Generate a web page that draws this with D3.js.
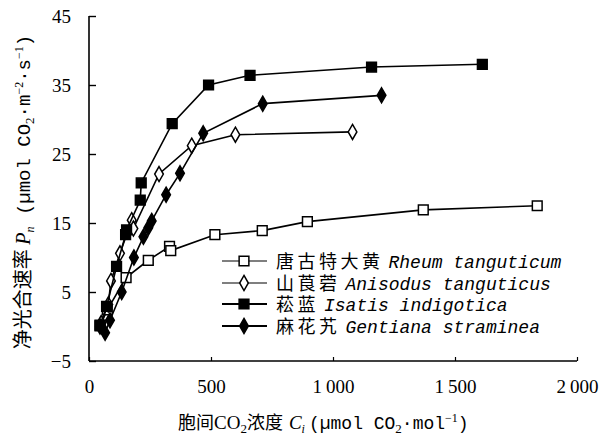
<!DOCTYPE html>
<html>
<head>
<meta charset="utf-8">
<script src="https://cdn.jsdelivr.net/npm/d3@7"></script>
<style>
  body { margin: 0; background: #fff; }
  svg { display: block; }
  .tick text { font-family: "Liberation Serif", serif; font-size: 19px; fill: #000; }
</style>
</head>
<body>
<svg width="614" height="437"></svg>
<script>
// data: [Ci, Pn]
var rheum = [[45, 0.1], [75, 2.4], [152, 7.1], [243, 9.6], [330, 11.6], [335, 11.0], [516, 13.3], [710, 13.9], [895, 15.2], [1370, 16.9], [1837, 17.5]];
var anisodus = [[50, 0.5], [79, 3.2], [90, 6.6], [127, 10.6], [175, 15.4], [182, 14.2], [287, 22.1], [421, 26.2], [600, 27.8], [1080, 28.2]];
var isatis = [[45, 0.2], [72, 2.9], [113, 8.7], [150, 13.3], [154, 14.0], [210, 18.3], [214, 20.8], [341, 29.4], [490, 35.0], [660, 36.4], [1158, 37.6], [1612, 38.0]];
var gentiana = [[45, 0.0], [66, -0.9], [86, 0.9], [134, 5.0], [184, 10.0], [223, 13.0], [243, 14.3], [257, 15.3], [316, 19.1], [373, 22.2], [468, 28.0], [712, 32.3], [1199, 33.5]];

var seriesNames = ["唐古特大黄", "山莨菪", "菘蓝", "麻花艽"];
var latinNames = ["Rheum tanguticum", "Anisodus tanguticus", "Isatis indigotica", "Gentiana straminea"];
var markers = ["openSquare", "openDiamond", "square", "diamond"];

var xTicks = [0, 500, 1000, 1500, 2000];
var yTicks = [-5, 5, 15, 25, 35, 45];

var svg = d3.select("svg");

var x = d3.scaleLinear().domain([0, 2000]).range([89, 577]);
var y = d3.scaleLinear().domain([-5, 45]).range([361, 16]);

// axes
svg.append("g")
  .attr("transform", "translate(0,361)")
  .call(d3.axisBottom(x).tickValues(xTicks).tickSize(-4).tickPadding(19)
    .tickFormat(d => d >= 1000 ? d3.format(",")(d).replace(",", "\u2009") : d))
  .call(g => g.select(".domain").attr("d", "M89,0H577").attr("stroke-width", 1.6))
  .call(g => g.selectAll(".tick line").attr("stroke-width", 1.2));

svg.append("g")
  .attr("transform", "translate(89,0)")
  .call(d3.axisLeft(y).tickValues(yTicks).tickSize(-7).tickPadding(18)
    .tickFormat(d => d < 0 ? "\u2212" + Math.abs(d) : d))
  .call(g => g.select(".domain").attr("d", "M0,16V361").attr("stroke-width", 1.6))
  .call(g => g.selectAll(".tick line").attr("stroke-width", 1.4));

var line = d3.line().x(d => x(d[0])).y(d => y(d[1]));

var symSquare = d3.symbol().type(d3.symbolSquare).size(95);
var symDiamond = d3.symbol().type(d3.symbolDiamond).size(65);

function drawMarker(g, type, px, py) {
  var filled = type == "square" || type == "diamond";
  var s = (type == "square" || type == "openSquare") ? symSquare : symDiamond;
  g.append("path")
    .attr("d", s())
    .attr("transform", "translate(" + px + "," + py + ")")
    .attr("fill", filled ? "#000" : "#fff")
    .attr("stroke", "#000")
    .attr("stroke-width", 1.5);
}

var allSeries = [rheum, anisodus, isatis, gentiana];

allSeries.forEach(function(data, i) {
  var g = svg.append("g");
  g.append("path")
    .datum(data)
    .attr("d", line)
    .attr("fill", "none")
    .attr("stroke", "#000")
    .attr("stroke-width", 1.6);
  data.forEach(d => drawMarker(g, markers[i], x(d[0]), y(d[1])));
});

// legend
var legendY = [261, 283, 304, 326];
seriesNames.forEach(function(name, i) {
  var g = svg.append("g");
  g.append("line")
    .attr("x1", 222).attr("x2", 267)
    .attr("y1", legendY[i]).attr("y2", legendY[i])
    .attr("stroke", "#000").attr("stroke-width", i < 2 ? 1.2 : 1.8);
  drawMarker(g, markers[i], 244, legendY[i]);
  var t = g.append("text")
    .attr("x", 276).attr("y", legendY[i] + 7)
    .attr("font-size", 18);
  t.append("tspan").attr("font-family", "'Noto Sans CJK SC'")
    .attr("letter-spacing", 3.5).text(name);
  t.append("tspan").attr("font-family", "'Liberation Mono', monospace")
    .attr("dx", 5)
    .attr("font-style", "italic").attr("font-size", 18).text(latinNames[i]);
});

// x title
var xt = svg.append("text")
  .attr("x", 178).attr("y", 429)
  .attr("font-size", 18);
xt.append("tspan").attr("font-family", "'Noto Sans CJK SC'").text("胞间");
xt.append("tspan").attr("font-family", "'Liberation Serif'").attr("font-size", 19).text("CO");
xt.append("tspan").attr("font-family", "'Liberation Serif'").attr("font-size", 13).attr("dy", 4).text("2");
xt.append("tspan").attr("font-family", "'Noto Sans CJK SC'").attr("dy", -4).text("浓度");
xt.append("tspan").attr("font-family", "'Liberation Serif'").attr("font-style", "italic").attr("font-size", 19).attr("dx", 6).text("C");
xt.append("tspan").attr("font-family", "'Liberation Serif'").attr("font-style", "italic").attr("font-size", 12).attr("dy", 4).text("i");
xt.append("tspan").attr("font-family", "'Liberation Mono'").attr("dy", -4).attr("dx", 4).text("(\u00b5mol CO");
xt.append("tspan").attr("font-family", "'Liberation Serif'").attr("font-size", 13).attr("dy", 4).text("2");
xt.append("tspan").attr("font-family", "'Liberation Mono'").attr("dy", -4).text("\u00b7mol");
xt.append("tspan").attr("font-family", "'Liberation Serif'").attr("font-size", 12).attr("dy", -7).text("\u22121");
xt.append("tspan").attr("font-family", "'Liberation Mono'").attr("dy", 7).text(")");

// y title
var yt = svg.append("text")
  .attr("transform", "translate(30,192) rotate(-90)")
  .attr("text-anchor", "middle")
  .attr("font-size", 19);
yt.append("tspan").attr("font-family", "'Noto Sans CJK SC'").attr("font-size", 20).text("净光合速率 ");
yt.append("tspan").attr("font-family", "'Liberation Serif'").attr("font-style", "italic").attr("font-size", 20).text("P");
yt.append("tspan").attr("font-family", "'Liberation Serif'").attr("font-style", "italic").attr("font-size", 12).attr("dy", 4).text("n");
yt.append("tspan").attr("font-family", "'Liberation Mono'").attr("dy", -4).text(" (\u00b5mol CO");
yt.append("tspan").attr("font-family", "'Liberation Serif'").attr("font-size", 13).attr("dy", 4).text("2");
yt.append("tspan").attr("font-family", "'Liberation Mono'").attr("dy", -4).text("\u00b7m");
yt.append("tspan").attr("font-family", "'Liberation Serif'").attr("font-size", 12).attr("dy", -7).text("\u22122");
yt.append("tspan").attr("font-family", "'Liberation Mono'").attr("dy", 7).text("\u00b7s");
yt.append("tspan").attr("font-family", "'Liberation Serif'").attr("font-size", 12).attr("dy", -7).text("\u22121");
yt.append("tspan").attr("font-family", "'Liberation Mono'").attr("dy", 7).text(")");
</script>
</body>
</html>
